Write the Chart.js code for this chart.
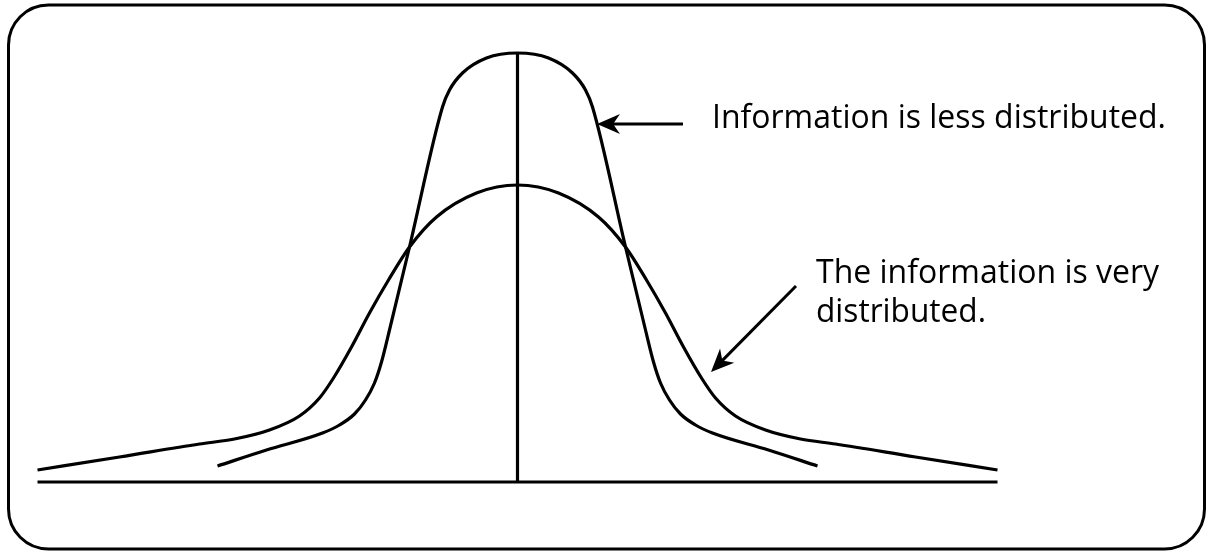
<!DOCTYPE html>
<html>
<head>
<meta charset="utf-8">
<title>Information distribution</title>
<script src="https://cdn.jsdelivr.net/npm/chart.js@4.4.1/dist/chart.umd.min.js"></script>
<style>
    html, body { margin: 0; padding: 0; background: #ffffff; }
    #wrap { position: relative; width: 1207px; height: 552px; }
</style>
</head>
<body>
<div id="wrap"><canvas id="distChart"></canvas></div>
<script>
// Curve values (x = distance from centre, y = height above the base line)
const narrowX = [-3.00, -2.51, -1.95, -1.78, -1.63, -1.52, -1.43, -1.36, -1.28, -1.08, -0.75, -0.68, -0.55, -0.31, 0,
                 0.31, 0.55, 0.68, 0.75, 1.08, 1.28, 1.36, 1.43, 1.52, 1.63, 1.78, 1.95, 2.51, 3.00];
const narrowY = [0.16, 0.32, 0.49, 0.57, 0.68, 0.82, 0.99, 1.20, 1.52, 2.35, 3.75, 3.92, 4.09, 4.24, 4.29,
                 4.24, 4.09, 3.92, 3.75, 2.35, 1.52, 1.20, 0.99, 0.82, 0.68, 0.57, 0.49, 0.32, 0.16];

const wideX = [-4.80, -3.98, -3.18, -2.83, -2.48, -2.18, -1.98, -1.84, -1.66, -1.48, -1.29, -1.08, -0.81, -0.41, 0,
               0.41, 0.81, 1.08, 1.29, 1.48, 1.66, 1.84, 1.98, 2.18, 2.48, 2.83, 3.18, 3.98, 4.80];
const wideY = [0.12, 0.25, 0.38, 0.43, 0.52, 0.66, 0.84, 1.04, 1.35, 1.69, 2.02, 2.35, 2.65, 2.89, 2.97,
               2.89, 2.65, 2.35, 2.02, 1.69, 1.35, 1.04, 0.84, 0.66, 0.52, 0.43, 0.38, 0.25, 0.12];

// Axis lines
const baseX = [-4.80, 4.80];
const baseY = [0, 0];
const centerX = [0, 0];
const centerY = [0, 4.29];

// Annotations: arrow from -> to (data units) and the label beside it
const notes = [
    { from: [1.655, 3.58], to: [0.795, 3.58], lines: ['Information is less distributed.'], textAt: [1.945, 3.54], widths: [454] },
    { from: [2.785, 1.96], to: [1.935, 1.10], lines: ['The information is very', 'distributed.'], textAt: [2.985, 1.99], widths: [345, 170] }
];

function toPoints(xs, ys) {
    return xs.map((x, i) => ({ x: x, y: ys[i] }));
}

function drawArrow(ctx, x1, y1, x2, y2) {
    const ang = Math.atan2(y2 - y1, x2 - x1);
    const len = 23, half = 10;
    ctx.save();
    ctx.strokeStyle = '#000';
    ctx.fillStyle = '#000';
    ctx.lineWidth = 3;
    ctx.beginPath();
    ctx.moveTo(x1, y1);
    ctx.lineTo(x2 - Math.cos(ang) * 10, y2 - Math.sin(ang) * 10);
    ctx.stroke();
    // notched head
    ctx.translate(x2, y2);
    ctx.rotate(ang);
    ctx.beginPath();
    ctx.moveTo(0, 0);
    ctx.lineTo(-len, -half);
    ctx.lineTo(-len * 0.7, 0);
    ctx.lineTo(-len, half);
    ctx.closePath();
    ctx.fill();
    ctx.restore();
}

// Frame, arrows and labels
const decorPlugin = {
    id: 'decor',
    beforeDraw(chart) {
        const ctx = chart.ctx;
        ctx.save();
        ctx.fillStyle = '#ffffff';
        ctx.fillRect(0, 0, chart.width, chart.height);
        ctx.strokeStyle = '#000';
        ctx.lineWidth = 3;
        ctx.beginPath();
        ctx.roundRect(8.5, 5, 1196, 544, 40);
        ctx.stroke();
        ctx.restore();
    },
    afterDatasetsDraw(chart) {
        const ctx = chart.ctx;
        const xs = chart.scales.x, ys = chart.scales.y;
        notes.forEach(n => {
            drawArrow(ctx,
                xs.getPixelForValue(n.from[0]), ys.getPixelForValue(n.from[1]),
                xs.getPixelForValue(n.to[0]), ys.getPixelForValue(n.to[1]));
            const tx = xs.getPixelForValue(n.textAt[0]);
            let ty = ys.getPixelForValue(n.textAt[1]);
            ctx.save();
            ctx.fillStyle = '#000';
            ctx.font = '32px "Open Sans", "Noto Sans", sans-serif';
            ctx.textBaseline = 'alphabetic';
            n.lines.forEach((line, i) => {
                const w = ctx.measureText(line).width;
                const sx = Math.min(1, n.widths[i] / w);
                ctx.save();
                ctx.translate(tx, ty + i * 39);
                ctx.scale(sx, 1);
                ctx.fillText(line, 0, 0);
                ctx.restore();
            });
            ctx.restore();
        });
    }
};

const lineStyle = {
    borderColor: '#000000',
    borderWidth: 3.2,
    pointRadius: 0,
    showLine: true,
    fill: false
};

new Chart(document.getElementById('distChart'), {
    type: 'scatter',
    data: {
        datasets: [
            Object.assign({ label: 'Less distributed', data: toPoints(narrowX, narrowY), cubicInterpolationMode: 'monotone' }, lineStyle),
            Object.assign({ label: 'Very distributed', data: toPoints(wideX, wideY), cubicInterpolationMode: 'monotone' }, lineStyle),
            Object.assign({ label: 'Base', data: toPoints(baseX, baseY), tension: 0 }, lineStyle),
            Object.assign({ label: 'Centre', data: toPoints(centerX, centerY), tension: 0 }, lineStyle)
        ]
    },
    options: {
        responsive: true,
        maintainAspectRatio: false,
        animation: false,
        layout: { padding: 0 },
        plugins: {
            legend: { display: false },
            tooltip: { enabled: false }
        },
        scales: {
            x: { type: 'linear', min: -5.175, max: 6.895, display: false },
            y: { type: 'linear', min: -0.70, max: 4.82, display: false }
        }
    },
    plugins: [decorPlugin]
});
</script>
</body>
</html>
